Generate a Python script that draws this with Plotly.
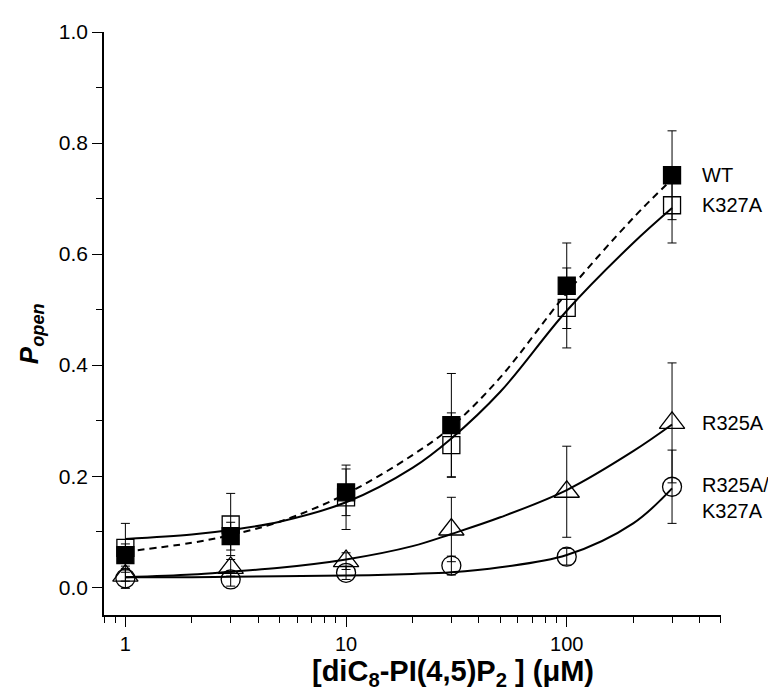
import plotly.graph_objects as go

# ---- data ----
conc = [1, 3, 10, 30, 100, 300]

wt = [0.058, 0.092, 0.171, 0.292, 0.543, 0.742]
wt_err = [0.020, 0.025, 0.042, 0.093, 0.077, 0.080]

k327a = [0.071, 0.113, 0.162, 0.256, 0.503, 0.688]
k327a_err = [0.044, 0.056, 0.058, 0.058, 0.072, 0.068]

r325a = [0.021, 0.035, 0.047, 0.104, 0.172, 0.296]
r325a_err = [0.010, 0.015, 0.015, 0.058, 0.082, 0.108]

r325a_k327a = [0.016, 0.014, 0.026, 0.039, 0.055, 0.181]
r325a_k327a_err = [0.018, 0.012, 0.012, 0.017, 0.015, 0.066]

# fitted curves at these concentrations
fit_conc = [1, 2, 3, 5, 10, 20, 30, 50, 100, 200, 300]
fit_wt = [0.064, 0.080, 0.094, 0.118, 0.168, 0.238, 0.289, 0.378, 0.530, 0.665, 0.735]
fit_k327a = [0.087, 0.095, 0.103, 0.118, 0.153, 0.215, 0.268, 0.352, 0.498, 0.620, 0.683]
fit_r325a = [0.018, 0.023, 0.028, 0.035, 0.050, 0.074, 0.096, 0.126, 0.175, 0.245, 0.293]
fit_r325a_k327a = [0.018, 0.018, 0.019, 0.020, 0.021, 0.024, 0.027, 0.036, 0.058, 0.115, 0.178]

x_tickvals = [1, 10, 100]
x_ticktext = ["1", "10", "100"]
x_minor = [0.8, 0.9, 2, 3, 4, 5, 6, 7, 8, 9, 20, 30, 40, 50, 60, 70, 80, 90,
           200, 300, 400, 500]

labels = ["WT", "K327A", "R325A", "R325A/<br>K327A"]

FONT = "Liberation Sans, Arial, Helvetica, sans-serif"

fig = go.Figure()

def curve(xv, yv, dash):
    fig.add_trace(go.Scatter(
        x=xv, y=yv, mode="lines", line_shape="spline",
        line=dict(color="black", width=2, dash=dash),
        hoverinfo="skip", showlegend=False))

curve(fit_conc, fit_wt, "7px,5px")
curve(fit_conc, fit_k327a, "solid")
curve(fit_conc, fit_r325a, "solid")
curve(fit_conc, fit_r325a_k327a, "solid")

def pts(yv, ev, symbol, size):
    fig.add_trace(go.Scatter(
        x=conc, y=yv, mode="markers",
        marker=dict(symbol=symbol, size=size, color="black",
                    line=dict(color="black", width=1.3)),
        error_y=dict(type="data", array=ev, visible=True, color="black",
                     thickness=1, width=4.5),
        showlegend=False))

pts(r325a_k327a, r325a_k327a_err, "circle-open", 19)
pts(r325a, r325a_err, "triangle-up-open", 22)
pts(k327a, k327a_err, "square-open", 17)
pts(wt, wt_err, "square", 17)

# series labels at the last data value
label_y = [wt[-1], k327a[-1], r325a[-1], r325a_k327a[-1] - 0.02]
for txt, yv in zip(labels, label_y):
    fig.add_annotation(
        x=0.966, xref="paper", y=yv, yref="y", text=txt, showarrow=False,
        xanchor="left", yanchor="middle", align="left",
        font=dict(family=FONT, size=20, color="black"))

# axis titles
fig.add_annotation(
    x=0.566, xref="paper", y=-0.066, yref="paper",
    text="<b>[diC<sub>8</sub>-PI(4,5)P<sub>2</sub> ] (μM)</b>",
    showarrow=False, xanchor="center", yanchor="top",
    font=dict(family=FONT, size=29, color="black"))
fig.add_annotation(
    x=-0.118, xref="paper", y=0.482, yref="paper",
    text="<b><i>P<sub>open</sub></i></b>", textangle=-90,
    showarrow=False, xanchor="center", yanchor="middle",
    font=dict(family=FONT, size=26, color="black"))

fig.update_layout(
    width=776, height=691,
    margin=dict(l=96, r=63, t=14, b=84),
    paper_bgcolor="white", plot_bgcolor="white",
    font=dict(family=FONT, size=20, color="black"),
    xaxis=dict(
        type="log", range=[-0.0969, 2.699],
        tickmode="array", tickvals=x_tickvals, ticktext=x_ticktext,
        ticks="outside", ticklen=10, tickwidth=1.3, tickcolor="black",
        minor=dict(tickmode="array", tickvals=x_minor, ticks="outside",
                   ticklen=6, tickwidth=1.3, tickcolor="black", showgrid=False),
        showline=True, linecolor="black", linewidth=1.5,
        showgrid=False, zeroline=False,
        tickfont=dict(family=FONT, size=20)),
    yaxis=dict(
        range=[-0.05, 1.0], tick0=0, dtick=0.2, tickformat=".1f",
        ticks="outside", ticklen=10, tickwidth=1.3, tickcolor="black",
        minor=dict(dtick=0.1, tick0=0, ticks="outside", ticklen=6,
                   tickwidth=1.3, tickcolor="black", showgrid=False),
        showline=True, linecolor="black", linewidth=1.5,
        showgrid=False, zeroline=False,
        tickfont=dict(family=FONT, size=21)),
)

fig.write_html("out.html")
